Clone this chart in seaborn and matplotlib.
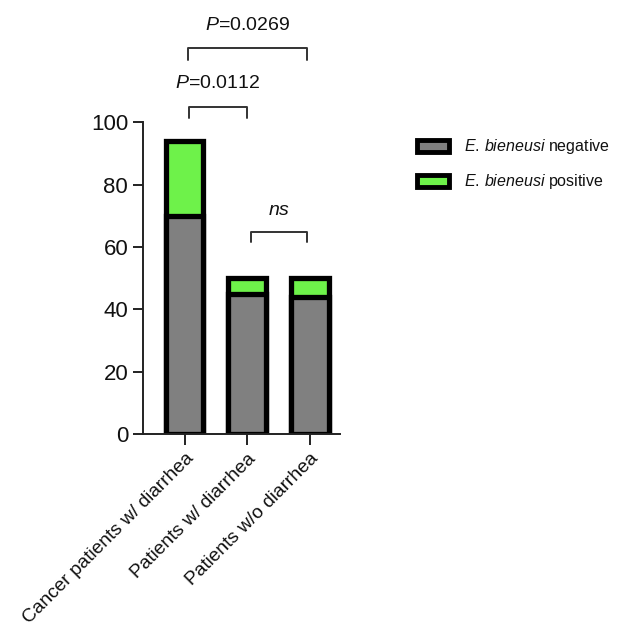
import numpy as np
import pandas as pd
import matplotlib
matplotlib.use("Agg")
import matplotlib.pyplot as plt
import seaborn as sns
from matplotlib.patches import Patch

groups = ["Cancer patients w/ diarrhea", "Patients w/ diarrhea", "Patients w/o diarrhea"]
negative = [70, 45, 44]
positive = [24, 5, 6]
legend_labels = [r"$\it{E.\,bieneusi}$ negative", r"$\it{E.\,bieneusi}$ positive"]
yticks = [0, 20, 40, 60, 80, 100]

sns.set_style("ticks")
plt.rcParams["font.family"] = ["Liberation Sans", "DejaVu Sans"]
plt.rcParams["mathtext.fontset"] = "custom"
plt.rcParams["mathtext.it"] = "Liberation Sans:italic"
plt.rcParams["mathtext.rm"] = "Liberation Sans"
plt.rcParams["text.color"] = "#111111"
plt.rcParams["xtick.labelcolor"] = "#111111"
plt.rcParams["ytick.labelcolor"] = "#111111"

df = pd.DataFrame({"group": groups, "negative": negative, "positive": positive})
df["total"] = df["negative"] + df["positive"]

gray = "#808080"
green = "#6ef24a"

fig = plt.figure(figsize=(6.18, 6.30), dpi=100)
ax = fig.add_axes([0.231, 0.311, 0.319, 0.495])

sns.barplot(data=df, x="group", y="total", color=green, edgecolor="black",
            linewidth=3.8, width=0.6, saturation=1, ax=ax)
sns.barplot(data=df, x="group", y="negative", color=gray, edgecolor="black",
            linewidth=3.8, width=0.6, saturation=1, ax=ax)

ax.set_xlim(-0.67, 2.48)
ax.set_ylim(0, 100)
ax.set_yticks(yticks)
ax.set_xlabel("")
ax.set_ylabel("")
sns.despine(ax=ax)
for s in ["left", "bottom"]:
    ax.spines[s].set_linewidth(1.4)
    ax.spines[s].set_color("#222222")
ax.tick_params(axis="both", width=1.4, length=7, color="#222222", labelsize=16)
ax.tick_params(axis="x", labelsize=13.8, length=8)
plt.setp(ax.get_xticklabels(), rotation=45, ha="right", rotation_mode="anchor")


def bracket(x1, x2, y, h, text, ty):
    ax.plot([x1, x1, x2, x2], [y - h, y, y, y - h], color="#333333", lw=1.4,
            clip_on=False)
    ax.text((x1 + x2) / 2, ty, text, ha="center", va="center", fontsize=14,
            clip_on=False)


bracket(0.07, 0.99, 105.0, 3.6, r"$\it{P}$=0.0112", 112.5)
bracket(0.06, 1.95, 123.7, 3.8, r"$\it{P}$=0.0269", 131.0)
bracket(1.06, 1.95, 64.7, 3.2, r"$\it{ns}$", 71.8)

handles = [Patch(facecolor=gray, edgecolor="black", linewidth=3.5),
           Patch(facecolor=green, edgecolor="black", linewidth=3.5)]
fig.legend(handles, legend_labels, loc="upper left", bbox_to_anchor=(0.652, 0.805),
           frameon=False, fontsize=11.5, handlelength=2.0, handleheight=0.8,
           handletextpad=0.9, labelspacing=1.0)

fig.savefig("out.png", dpi=100)
